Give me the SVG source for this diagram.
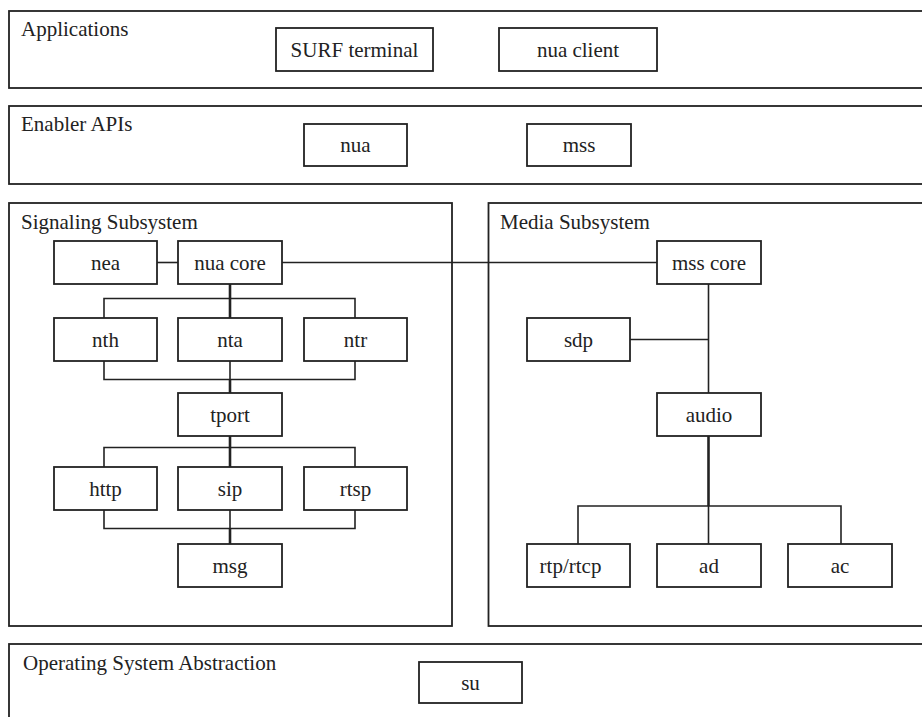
<svg xmlns="http://www.w3.org/2000/svg" width="922" height="717" viewBox="0 0 922 717">
  <style>
    .layer { fill: #fff; stroke: #222; stroke-width: 1.8; }
    .box { fill: #fff; stroke: #222; stroke-width: 1.8; }
    .title { font-family: "Liberation Serif", "Times New Roman", serif; font-size: 21px; fill: #222; }
    .lbl { font-family: "Liberation Serif", "Times New Roman", serif; font-size: 21px; fill: #222; text-anchor: middle; }
    .wire { fill: none; stroke: #222; stroke-width: 1.6; }
    .trunk { fill: none; stroke: #222; stroke-width: 2.6; }
  </style>
  <rect width="922" height="717" fill="#fff"/>

  <!-- layers -->
  <g id="layer-applications">
    <rect class="layer" x="9" y="11" width="930" height="77"/>
    <text class="title" x="21" y="36">Applications</text>
  </g>
  <g id="layer-enabler">
    <rect class="layer" x="9" y="106" width="930" height="78"/>
    <text class="title" x="21" y="131">Enabler APIs</text>
  </g>
  <g id="layer-signaling">
    <rect class="layer" x="9" y="203" width="443" height="423"/>
    <text class="title" x="21" y="229">Signaling Subsystem</text>
  </g>
  <g id="layer-media">
    <rect class="layer" x="488.5" y="203" width="450" height="423"/>
    <text class="title" x="500" y="229">Media Subsystem</text>
  </g>
  <g id="layer-os">
    <rect class="layer" x="9" y="644" width="930" height="90"/>
    <text class="title" x="23" y="670">Operating System Abstraction</text>
  </g>

  <!-- connectors -->
  <g id="connectors">
    <line class="wire" x1="157" y1="262.5" x2="178" y2="262.5"/>
    <line class="wire" x1="282" y1="262.5" x2="657" y2="262.5"/>
    <!-- nua core fan-out -->
    <line class="trunk" x1="230" y1="284" x2="230" y2="318"/>
    <polyline class="wire" points="104,318 104,298.5 355,298.5 355,318"/>
    <!-- fan-in to tport -->
    <polyline class="wire" points="104,361 104,379.5 355,379.5 355,361"/>
    <line class="wire" x1="230" y1="361" x2="230" y2="379.5"/>
    <line class="trunk" x1="230" y1="379.5" x2="230" y2="393"/>
    <!-- tport fan-out -->
    <line class="trunk" x1="230" y1="436" x2="230" y2="467"/>
    <polyline class="wire" points="104,467 104,447.5 355,447.5 355,467"/>
    <!-- fan-in to msg -->
    <polyline class="wire" points="104,510 104,528.5 355,528.5 355,510"/>
    <line class="wire" x1="230" y1="510" x2="230" y2="528.5"/>
    <line class="trunk" x1="230" y1="528.5" x2="230" y2="544"/>
    <!-- media -->
    <line class="wire" x1="708.5" y1="284" x2="708.5" y2="393"/>
    <line class="wire" x1="630" y1="339.5" x2="708.5" y2="339.5"/>
    <line class="trunk" x1="708.5" y1="436" x2="708.5" y2="506"/>
    <polyline class="wire" points="578,544 578,506 841,506 841,544"/>
    <line class="wire" x1="708.5" y1="506" x2="708.5" y2="544"/>
  </g>

  <!-- nodes -->
  <g id="surf-terminal"><rect class="box" x="276" y="28" width="157" height="43"/><text class="lbl" x="354.5" y="56.5">SURF terminal</text></g>
  <g id="nua-client"><rect class="box" x="499" y="28" width="158" height="43"/><text class="lbl" x="578" y="56.5">nua client</text></g>
  <g id="nua"><rect class="box" x="304" y="124" width="103" height="42"/><text class="lbl" x="355.5" y="152">nua</text></g>
  <g id="mss"><rect class="box" x="527" y="124" width="104" height="42"/><text class="lbl" x="579" y="152">mss</text></g>

  <g id="nea"><rect class="box" x="54" y="241" width="103" height="43"/><text class="lbl" x="105.5" y="269.5">nea</text></g>
  <g id="nua-core"><rect class="box" x="178" y="241" width="104" height="43"/><text class="lbl" x="230" y="269.5">nua core</text></g>
  <g id="nth"><rect class="box" x="54" y="318" width="103" height="43"/><text class="lbl" x="105.5" y="346.5">nth</text></g>
  <g id="nta"><rect class="box" x="178" y="318" width="104" height="43"/><text class="lbl" x="230" y="346.5">nta</text></g>
  <g id="ntr"><rect class="box" x="304" y="318" width="103" height="43"/><text class="lbl" x="355.5" y="346.5">ntr</text></g>
  <g id="tport"><rect class="box" x="178" y="393" width="104" height="43"/><text class="lbl" x="230" y="421.5">tport</text></g>
  <g id="http"><rect class="box" x="54" y="467" width="103" height="43"/><text class="lbl" x="105.5" y="495.5">http</text></g>
  <g id="sip"><rect class="box" x="178" y="467" width="104" height="43"/><text class="lbl" x="230" y="495.5">sip</text></g>
  <g id="rtsp"><rect class="box" x="304" y="467" width="103" height="43"/><text class="lbl" x="355.5" y="495.5">rtsp</text></g>
  <g id="msg"><rect class="box" x="178" y="544" width="104" height="43"/><text class="lbl" x="230" y="572.5">msg</text></g>

  <g id="mss-core"><rect class="box" x="657" y="241" width="104" height="43"/><text class="lbl" x="709" y="269.5">mss core</text></g>
  <g id="sdp"><rect class="box" x="527" y="318" width="103" height="43"/><text class="lbl" x="578.5" y="346.5">sdp</text></g>
  <g id="audio"><rect class="box" x="657" y="393" width="104" height="43"/><text class="lbl" x="709" y="421.5">audio</text></g>
  <g id="rtp-rtcp"><rect class="box" x="527" y="544" width="103" height="43"/><text class="lbl" x="570.5" y="572.5">rtp/rtcp</text></g>
  <g id="ad"><rect class="box" x="657" y="544" width="104" height="43"/><text class="lbl" x="709" y="572.5">ad</text></g>
  <g id="ac"><rect class="box" x="788" y="544" width="104" height="43"/><text class="lbl" x="840" y="572.5">ac</text></g>

  <g id="su"><rect class="box" x="419" y="662" width="103" height="41"/><text class="lbl" x="470.5" y="689.5">su</text></g>
</svg>
